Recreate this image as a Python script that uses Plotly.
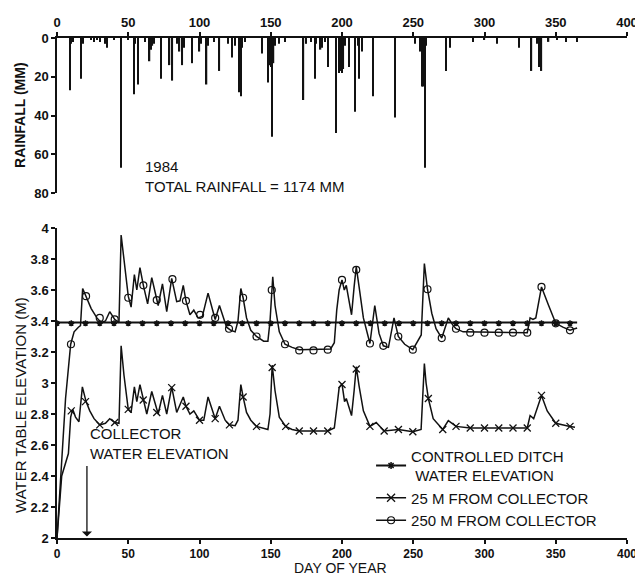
import plotly.graph_objects as go

# ---------------- data ----------------
rain_day = [9, 10, 11, 17, 18, 24, 26, 28, 30, 34, 35, 40, 45, 50, 54, 55, 57, 62, 65, 66, 67, 68,
            73, 79, 81, 84, 86, 88, 89, 95, 100, 101, 105, 106, 110, 114, 120, 123, 125, 128, 129,
            130, 132, 144, 148, 149, 150, 151, 152, 153, 156, 160, 173, 175, 178, 181, 182, 185, 186,
            188, 190, 196, 198, 199, 200, 201, 202, 205, 209, 211, 212, 214, 222, 237, 251, 255, 256,
            257, 258, 259, 273, 276, 292, 300, 309, 324, 333, 337, 338, 340, 345, 351, 357, 365]
rain_mm = [27, 3, 2, 21, 3, 1, 2, 1, 2, 3, 5, 1, 67, 1, 29, 3, 24, 2, 12, 6, 4, 3,
           21, 14, 22, 3, 7, 14, 5, 13, 7, 3, 24, 4, 2, 17, 3, 10, 4, 28, 30,
           5, 2, 8, 23, 14, 15, 51, 13, 4, 3, 2, 32, 3, 2, 21, 3, 6, 5,
           2, 15, 49, 18, 17, 18, 16, 4, 15, 38, 4, 21, 7, 30, 41, 3, 7, 25,
           25, 67, 4, 17, 5, 2, 1, 3, 5, 17, 3, 15, 17, 2, 1, 2, 2]

ditch_day = [0, 10, 20, 30, 40, 50, 60, 70, 80, 90, 100, 110, 120, 130, 140, 150, 160, 170, 180,
             190, 200, 210, 220, 230, 240, 250, 260, 270, 280, 290, 300, 310, 320, 330, 340, 350,
             360, 365]
ditch_m = [3.39] * 38
ditch_mark_day = ditch_day[:-1]
ditch_mark_m = [3.385] * 37

d25 = [0, 3.3, 8, 9.6, 11, 13, 15.4, 17.8, 20.4, 23, 26, 30, 34, 37, 40.5, 43.5, 45, 47, 50, 52,
       54.3, 56, 58.2, 60.5, 63, 66.5, 71, 74, 77, 80.5, 84, 88.6, 90.5, 93.3, 96, 100, 103, 106,
       111, 114, 118, 121, 125, 127, 129, 130.6, 133, 136, 140, 148, 149.5, 151, 153, 156, 160.5,
       165, 170, 190, 194.6, 196.5, 198, 200, 201.8, 203, 206.7, 208.5, 210, 212, 215, 219.6, 224,
       229.6, 239.6, 249.7, 255.5, 257.8, 259, 260.6, 264, 270.7, 274.6, 280, 290, 330, 332, 334.5,
       336, 340, 344, 350, 360, 363.5]
w25 = [2.00, 2.40, 2.545, 2.78, 2.83, 2.78, 2.75, 2.975, 2.88, 2.82, 2.77, 2.73, 2.74, 2.77, 2.745,
       2.74, 3.24, 3.05, 2.83, 2.81, 2.975, 2.88, 2.99, 2.89, 2.80, 2.945, 2.80, 2.92, 2.80, 2.975,
       2.81, 2.91, 2.85, 2.80, 2.82, 2.76, 2.76, 2.91, 2.77, 2.85, 2.76, 2.73, 2.725, 2.76, 2.99,
       2.91, 2.81, 2.76, 2.72, 2.70, 2.80, 3.115, 2.95, 2.78, 2.72, 2.70, 2.69, 2.69, 2.71, 2.85,
       2.97, 2.995, 2.88, 2.90, 2.79, 2.95, 3.105, 2.98, 2.82, 2.72, 2.745, 2.69, 2.70, 2.685, 2.70,
       3.125, 3.00, 2.90, 2.77, 2.70, 2.757, 2.72, 2.71, 2.71, 2.79, 2.77, 2.81, 2.92, 2.82, 2.74,
       2.72, 2.715]
m25_day = [10, 20, 30, 40.5, 50, 60.5, 70, 80.5, 90.5, 100, 111, 121, 130.6, 140, 151, 160.5, 170,
           180, 190, 200, 210, 219.6, 229.6, 239.6, 249.7, 260.6, 270.7, 280, 290, 300, 310, 320,
           330, 340, 350, 360]
m25_m = [2.82, 2.88, 2.73, 2.745, 2.83, 2.89, 2.81, 2.97, 2.85, 2.76, 2.77, 2.73, 2.91, 2.72, 3.10,
         2.72, 2.69, 2.69, 2.69, 2.99, 3.09, 2.72, 2.69, 2.70, 2.685, 2.90, 2.70, 2.72, 2.71, 2.71,
         2.71, 2.71, 2.71, 2.92, 2.74, 2.72]

d250 = [0, 3, 6, 9.6, 12, 15, 16.5, 18, 20.4, 24, 28, 31, 34, 37, 40.5, 43.5, 45, 47.5, 50, 52,
        54.3, 56, 58.2, 60.6, 63.6, 66.5, 70, 71, 74, 77, 80.5, 84, 86.3, 88.6, 90.5, 93.3, 96, 99,
        102, 106, 111, 114, 119, 122, 125, 127, 129, 130.6, 133, 136, 140, 145, 148, 149.5, 151.4,
        153, 156, 160, 165, 170, 192, 194.6, 196.3, 198, 200, 201.6, 203, 206.7, 208.5, 210, 212,
        215, 219.6, 223, 226, 229, 232.6, 236.5, 239.5, 244, 249.7, 255.6, 257.8, 260, 263, 266,
        270, 274.6, 278, 280, 285, 330, 332, 334, 336, 340, 345, 350, 355, 360, 365]
w250 = [2.00, 2.45, 2.90, 3.25, 3.33, 3.36, 3.37, 3.61, 3.56, 3.48, 3.42, 3.39, 3.40, 3.46, 3.41,
        3.39, 3.955, 3.75, 3.56, 3.49, 3.70, 3.60, 3.745, 3.63, 3.51, 3.68, 3.53, 3.50, 3.64, 3.46,
        3.675, 3.525, 3.53, 3.63, 3.53, 3.44, 3.47, 3.42, 3.43, 3.58, 3.41, 3.50, 3.36, 3.34, 3.33,
        3.40, 3.61, 3.55, 3.42, 3.34, 3.30, 3.27, 3.27, 3.40, 3.685, 3.50, 3.33, 3.25, 3.23, 3.215,
        3.22, 3.26, 3.47, 3.60, 3.665, 3.60, 3.63, 3.44, 3.62, 3.75, 3.62, 3.42, 3.255, 3.50, 3.32,
        3.24, 3.23, 3.42, 3.30, 3.25, 3.215, 3.31, 3.77, 3.605, 3.45, 3.35, 3.29, 3.42, 3.37, 3.35,
        3.33, 3.325, 3.42, 3.41, 3.42, 3.62, 3.50, 3.385, 3.36, 3.34, 3.355]
m250_day = [9.8, 20.4, 30, 40.5, 50, 60.6, 70, 81, 90.5, 100.4, 111, 120.7, 130.6, 140, 150.7, 160,
            170, 180, 190, 200, 210, 219.6, 229, 239.5, 249.7, 260, 270, 280, 290, 300, 310, 320,
            330, 340, 350, 360]
m250_m = [3.25, 3.56, 3.42, 3.41, 3.55, 3.63, 3.535, 3.67, 3.53, 3.44, 3.42, 3.35, 3.55, 3.30, 3.60,
          3.25, 3.21, 3.21, 3.215, 3.665, 3.73, 3.255, 3.24, 3.30, 3.215, 3.605, 3.29, 3.35, 3.325,
          3.325, 3.325, 3.325, 3.325, 3.62, 3.385, 3.34]

x_ticks = [0, 50, 100, 150, 200, 250, 300, 350, 400]
rain_ticks = [0, 20, 40, 60, 80]
wt_ticks = [2, 2.2, 2.4, 2.6, 2.8, 3, 3.2, 3.4, 3.6, 3.8, 4]

legend_names = ["CONTROLLED DITCH<br> WATER ELEVATION", "25 M FROM COLLECTOR", "250 M FROM COLLECTOR"]

# ---------------- figure ----------------
FONT = "Liberation Sans, Arial, sans-serif"
BLACK = "#111111"

fig = go.Figure()

fig.add_trace(go.Bar(x=rain_day, y=rain_mm, width=0.9, marker=dict(color=BLACK, line=dict(width=0)),
                     xaxis="x", yaxis="y", showlegend=False))

fig.add_trace(go.Scatter(x=ditch_day, y=ditch_m, mode="lines", line=dict(color=BLACK, width=2),
                         xaxis="x2", yaxis="y2", showlegend=False))
fig.add_trace(go.Scatter(x=ditch_mark_day, y=ditch_mark_m, mode="markers",
                         marker=dict(symbol="asterisk-open", size=5, color=BLACK,
                                     line=dict(color=BLACK, width=1.5)),
                         xaxis="x2", yaxis="y2", showlegend=False))

fig.add_trace(go.Scatter(x=d25, y=w25, mode="lines", line=dict(color=BLACK, width=1.5),
                         xaxis="x2", yaxis="y2", showlegend=False))
fig.add_trace(go.Scatter(x=m25_day, y=m25_m, mode="markers",
                         marker=dict(symbol="x-thin-open", size=7, color=BLACK,
                                     line=dict(color=BLACK, width=1.3)),
                         xaxis="x2", yaxis="y2", showlegend=False))

fig.add_trace(go.Scatter(x=d250, y=w250, mode="lines", line=dict(color=BLACK, width=1.5),
                         xaxis="x2", yaxis="y2", showlegend=False))
fig.add_trace(go.Scatter(x=m250_day, y=m250_m, mode="markers",
                         marker=dict(symbol="circle-open", size=7, color=BLACK,
                                     line=dict(color=BLACK, width=1.2)),
                         xaxis="x2", yaxis="y2", showlegend=False))

# legend-only entries
leg_markers = [dict(symbol="asterisk-open", size=6, color=BLACK, line=dict(color=BLACK, width=1.5)),
               dict(symbol="x-thin-open", size=8, color=BLACK, line=dict(color=BLACK, width=1.3)),
               dict(symbol="circle-open", size=7, color=BLACK, line=dict(color=BLACK, width=1.2))]
leg_widths = [2, 1.5, 1.5]
for name, mk, lw in zip(legend_names, leg_markers, leg_widths):
    fig.add_trace(go.Scatter(x=[None], y=[None], mode="lines+markers", name=name,
                             line=dict(color=BLACK, width=lw), marker=mk,
                             xaxis="x2", yaxis="y2", showlegend=True))

axis_common = dict(showline=True, linecolor=BLACK, linewidth=1.5, ticks="outside", ticklen=4,
                   tickwidth=1.5, tickcolor=BLACK, showgrid=False, zeroline=False, automargin=False,
                   tickfont=dict(family=FONT, size=13, color=BLACK, weight="bold"))
inner_ticks = dict(ticks="inside", ticklen=4, tickwidth=1.5, tickcolor=BLACK, showticklabels=False,
                   showline=False, showgrid=False, zeroline=False, automargin=False)

title_font = dict(family=FONT, size=15, color=BLACK)

fig.update_layout(
    width=635, height=569,
    margin=dict(l=49, r=16, t=30, b=39),
    paper_bgcolor="white", plot_bgcolor="white",
    font=dict(family=FONT, color=BLACK),
    xaxis=dict(domain=[0, 1], range=[0, 400], side="top", anchor="y", tickvals=x_ticks, **axis_common),
    yaxis=dict(domain=[0.69, 1.0], range=[80, 0], anchor="x", tickvals=rain_ticks, **axis_common),
    xaxis2=dict(domain=[0, 1], range=[0, 400], anchor="y2", tickvals=x_ticks,
                **{**axis_common, "tickfont": dict(family=FONT, size=12, color=BLACK, weight="bold")}),
    yaxis2=dict(domain=[0, 0.62], range=[2, 4], anchor="x2", tickvals=wt_ticks, **axis_common),
    xaxis3=dict(overlaying="x", anchor="y", side="top", range=[0, 400], tickvals=x_ticks, **inner_ticks),
    yaxis3=dict(overlaying="y", anchor="x", side="left", range=[80, 0], tickvals=rain_ticks, **inner_ticks),
    xaxis4=dict(overlaying="x2", anchor="y2", side="bottom", range=[0, 400], tickvals=x_ticks, **inner_ticks),
    yaxis4=dict(overlaying="y2", anchor="x2", side="left", range=[2, 4], tickvals=wt_ticks, **inner_ticks),
    legend=dict(x=0.551, y=0.197, xanchor="left", yanchor="top", bgcolor="rgba(0,0,0,0)",
                font=dict(family=FONT, size=15, color=BLACK), tracegroupgap=0),
    annotations=[
        dict(text="RAINFALL (MM)", x=-0.065, y=0.846, xref="paper", yref="paper", textangle=-90,
             xanchor="center", yanchor="middle", showarrow=False,
             font=dict(family=FONT, size=14, color=BLACK, weight="bold")),
        dict(text="WATER TABLE ELEVATION (M)", x=-0.065, y=0.266, xref="paper", yref="paper",
             textangle=-90, xanchor="center", yanchor="middle", showarrow=False, font=title_font),
        dict(text="DAY OF YEAR", x=0.498, y=-0.06, xref="paper", yref="paper",
             xanchor="center", yanchor="middle", showarrow=False,
             font=dict(family=FONT, size=14, color=BLACK)),
        dict(text="1984<br>TOTAL RAINFALL = 1174 MM", x=60.5, y=71.5, xref="x", yref="y",
             xanchor="left", yanchor="middle", align="left", showarrow=False, font=title_font),
        dict(text="COLLECTOR<br>WATER ELEVATION", x=21.5, y=2.61, xref="x2", yref="y2",
             xanchor="left", yanchor="middle", align="left", showarrow=False, font=title_font),
        dict(text="", x=21, y=2.01, xref="x2", yref="y2", showarrow=True, ax=0, ay=-72,
             arrowhead=1, arrowsize=1.3, arrowwidth=1.3, arrowcolor=BLACK),
    ],
)

fig.write_html("out.html")
